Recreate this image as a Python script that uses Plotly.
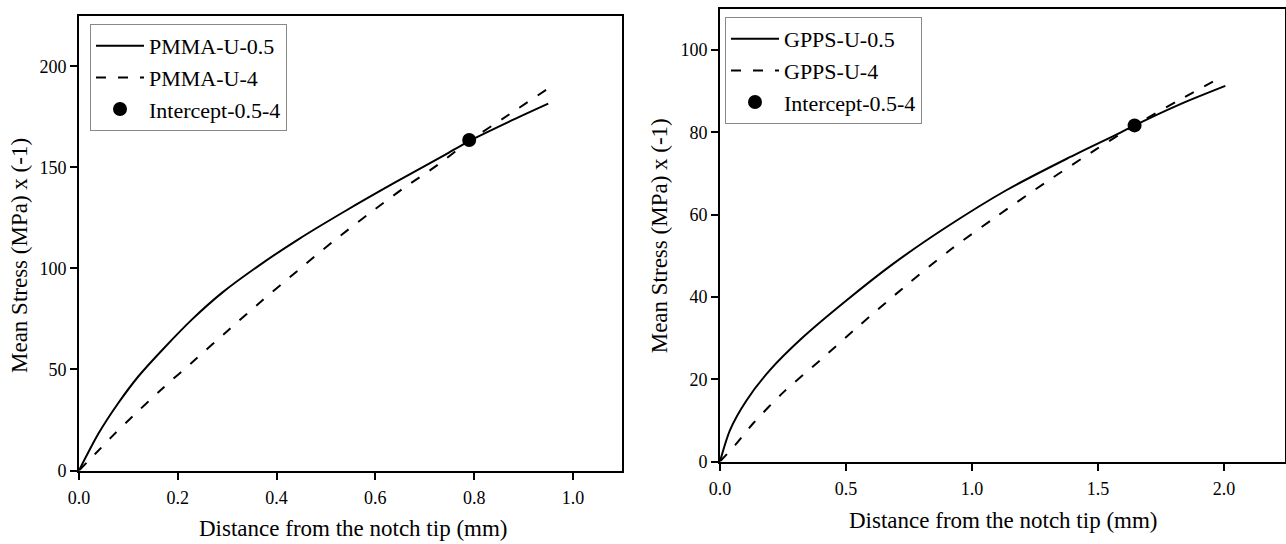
import plotly.graph_objects as go

# ---- data ----
pmma_05_x = [0, 0.04, 0.08, 0.12, 0.17, 0.23, 0.29, 0.365, 0.445, 0.54, 0.64, 0.74, 0.79, 0.87, 0.95]
pmma_05_y = [0, 18.5, 33.5, 46.5, 60, 75, 88, 101.5, 114.5, 128.5, 142.5, 156, 163, 172.5, 181.5]

pmma_4_x = [0, 0.034, 0.0675, 0.101, 0.169, 0.236, 0.304, 0.3715, 0.4424, 0.5133, 0.5843, 0.655, 0.7262, 0.79, 0.87, 0.95]
pmma_4_y = [0, 8.5, 17, 25, 40.6, 55, 69.8, 84.2, 98.8, 113.1, 126.5, 139.3, 151.2, 163, 176, 189]

pmma_int_x = [0.79]
pmma_int_y = [163.5]

gpps_05_x = [0, 0.0397, 0.1058, 0.198, 0.331, 0.5026, 0.688, 0.899, 1.1376, 1.3757, 1.587, 1.645, 1.82, 2.005]
gpps_05_y = [0, 7.65, 14.9, 22.2, 30.3, 39.2, 48.1, 57.0, 66.0, 73.6, 79.9, 81.7, 86.7, 91.3]

gpps_4_x = [0, 0.066, 0.132, 0.251, 0.397, 0.5556, 0.7407, 0.9127, 1.098, 1.296, 1.495, 1.645, 1.82, 1.996]
gpps_4_y = [0, 4.4, 9.3, 16.8, 24.6, 33.2, 42.9, 51.4, 59.6, 68.0, 76.0, 81.7, 87.8, 93.7]

gpps_int_x = [1.645]
gpps_int_y = [81.7]

FONT = "Liberation Serif, Times New Roman, serif"
W, H = 1286, 544

fig = go.Figure()

line_solid = dict(color="black", width=2, shape="spline", smoothing=0.8)
line_dash = dict(color="black", width=2, dash="10px,12px", shape="spline", smoothing=0.8)

fig.add_trace(go.Scatter(x=pmma_05_x, y=pmma_05_y, mode="lines", name="PMMA-U-0.5",
                         line=line_solid, xaxis="x", yaxis="y", legend="legend"))
fig.add_trace(go.Scatter(x=pmma_4_x, y=pmma_4_y, mode="lines", name="PMMA-U-4",
                         line=line_dash, xaxis="x", yaxis="y", legend="legend"))
fig.add_trace(go.Scatter(x=pmma_int_x, y=pmma_int_y, mode="markers", name="Intercept-0.5-4",
                         marker=dict(color="black", size=14), xaxis="x", yaxis="y", legend="legend"))

fig.add_trace(go.Scatter(x=gpps_05_x, y=gpps_05_y, mode="lines", name="GPPS-U-0.5",
                         line=line_solid, xaxis="x2", yaxis="y2", legend="legend2"))
fig.add_trace(go.Scatter(x=gpps_4_x, y=gpps_4_y, mode="lines", name="GPPS-U-4",
                         line=line_dash, xaxis="x2", yaxis="y2", legend="legend2"))
fig.add_trace(go.Scatter(x=gpps_int_x, y=gpps_int_y, mode="markers", name="Intercept-0.5-4",
                         marker=dict(color="black", size=14), xaxis="x2", yaxis="y2", legend="legend2"))

axis_common = dict(showline=True, linecolor="black", linewidth=2, mirror=True,
                   ticks="outside", ticklen=7, tickwidth=2, tickcolor="black",
                   showgrid=False, zeroline=False,
                   tickfont=dict(family=FONT, size=18, color="black"), automargin=False)

legend_common = dict(xanchor="left", yanchor="top", bgcolor="white",
                     bordercolor="#888888", borderwidth=1, itemwidth=48,
                     font=dict(family=FONT, size=22, color="black"))

fig.update_layout(
    width=W, height=H,
    margin=dict(l=0, r=0, t=0, b=0),
    paper_bgcolor="white", plot_bgcolor="white",
    font=dict(family=FONT, color="black"),
    xaxis=dict(domain=[79 / W, 622.3 / W], range=[0, 1.1], dtick=0.2, tickformat=".1f",
               anchor="y", ticklabelstandoff=3, **axis_common),
    yaxis=dict(domain=[1 - 470.5 / H, 1 - 15.7 / H], range=[0, 225], dtick=50,
               anchor="x", **axis_common),
    xaxis2=dict(domain=[720 / W, 1285.3 / W], range=[0, 2.243], dtick=0.5, tickformat=".1f",
                anchor="y2", ticklabelstandoff=3, **axis_common),
    yaxis2=dict(domain=[1 - 461.5 / H, 1 - 9 / H], range=[0, 110], dtick=20,
                anchor="x2", **axis_common),
    legend=dict(x=90 / W, y=1 - 24 / H, **legend_common),
    legend2=dict(x=725 / W, y=1 - 17 / H, **legend_common),
    showlegend=True,
)

title_font = dict(family=FONT, size=23, color="black")
fig.add_annotation(text="Distance from the notch tip (mm)", xref="paper", yref="paper",
                   x=353.5 / W, y=1 - 528.6 / H, xanchor="center", yanchor="middle",
                   showarrow=False, font=title_font)
fig.add_annotation(text="Distance from the notch tip (mm)", xref="paper", yref="paper",
                   x=1003 / W, y=1 - 520 / H, xanchor="center", yanchor="middle",
                   showarrow=False, font=title_font)
fig.add_annotation(text="Mean Stress (MPa) x (-1)", xref="paper", yref="paper",
                   x=19.4 / W, y=1 - 255.6 / H, xanchor="center", yanchor="middle",
                   textangle=-90, showarrow=False, font=title_font)
fig.add_annotation(text="Mean Stress (MPa) x (-1)", xref="paper", yref="paper",
                   x=659.6 / W, y=1 - 235.7 / H, xanchor="center", yanchor="middle",
                   textangle=-90, showarrow=False, font=title_font)

fig.write_html("out.html", config={"displayModeBar": False},
               post_script="document.body.style.margin='0';")
